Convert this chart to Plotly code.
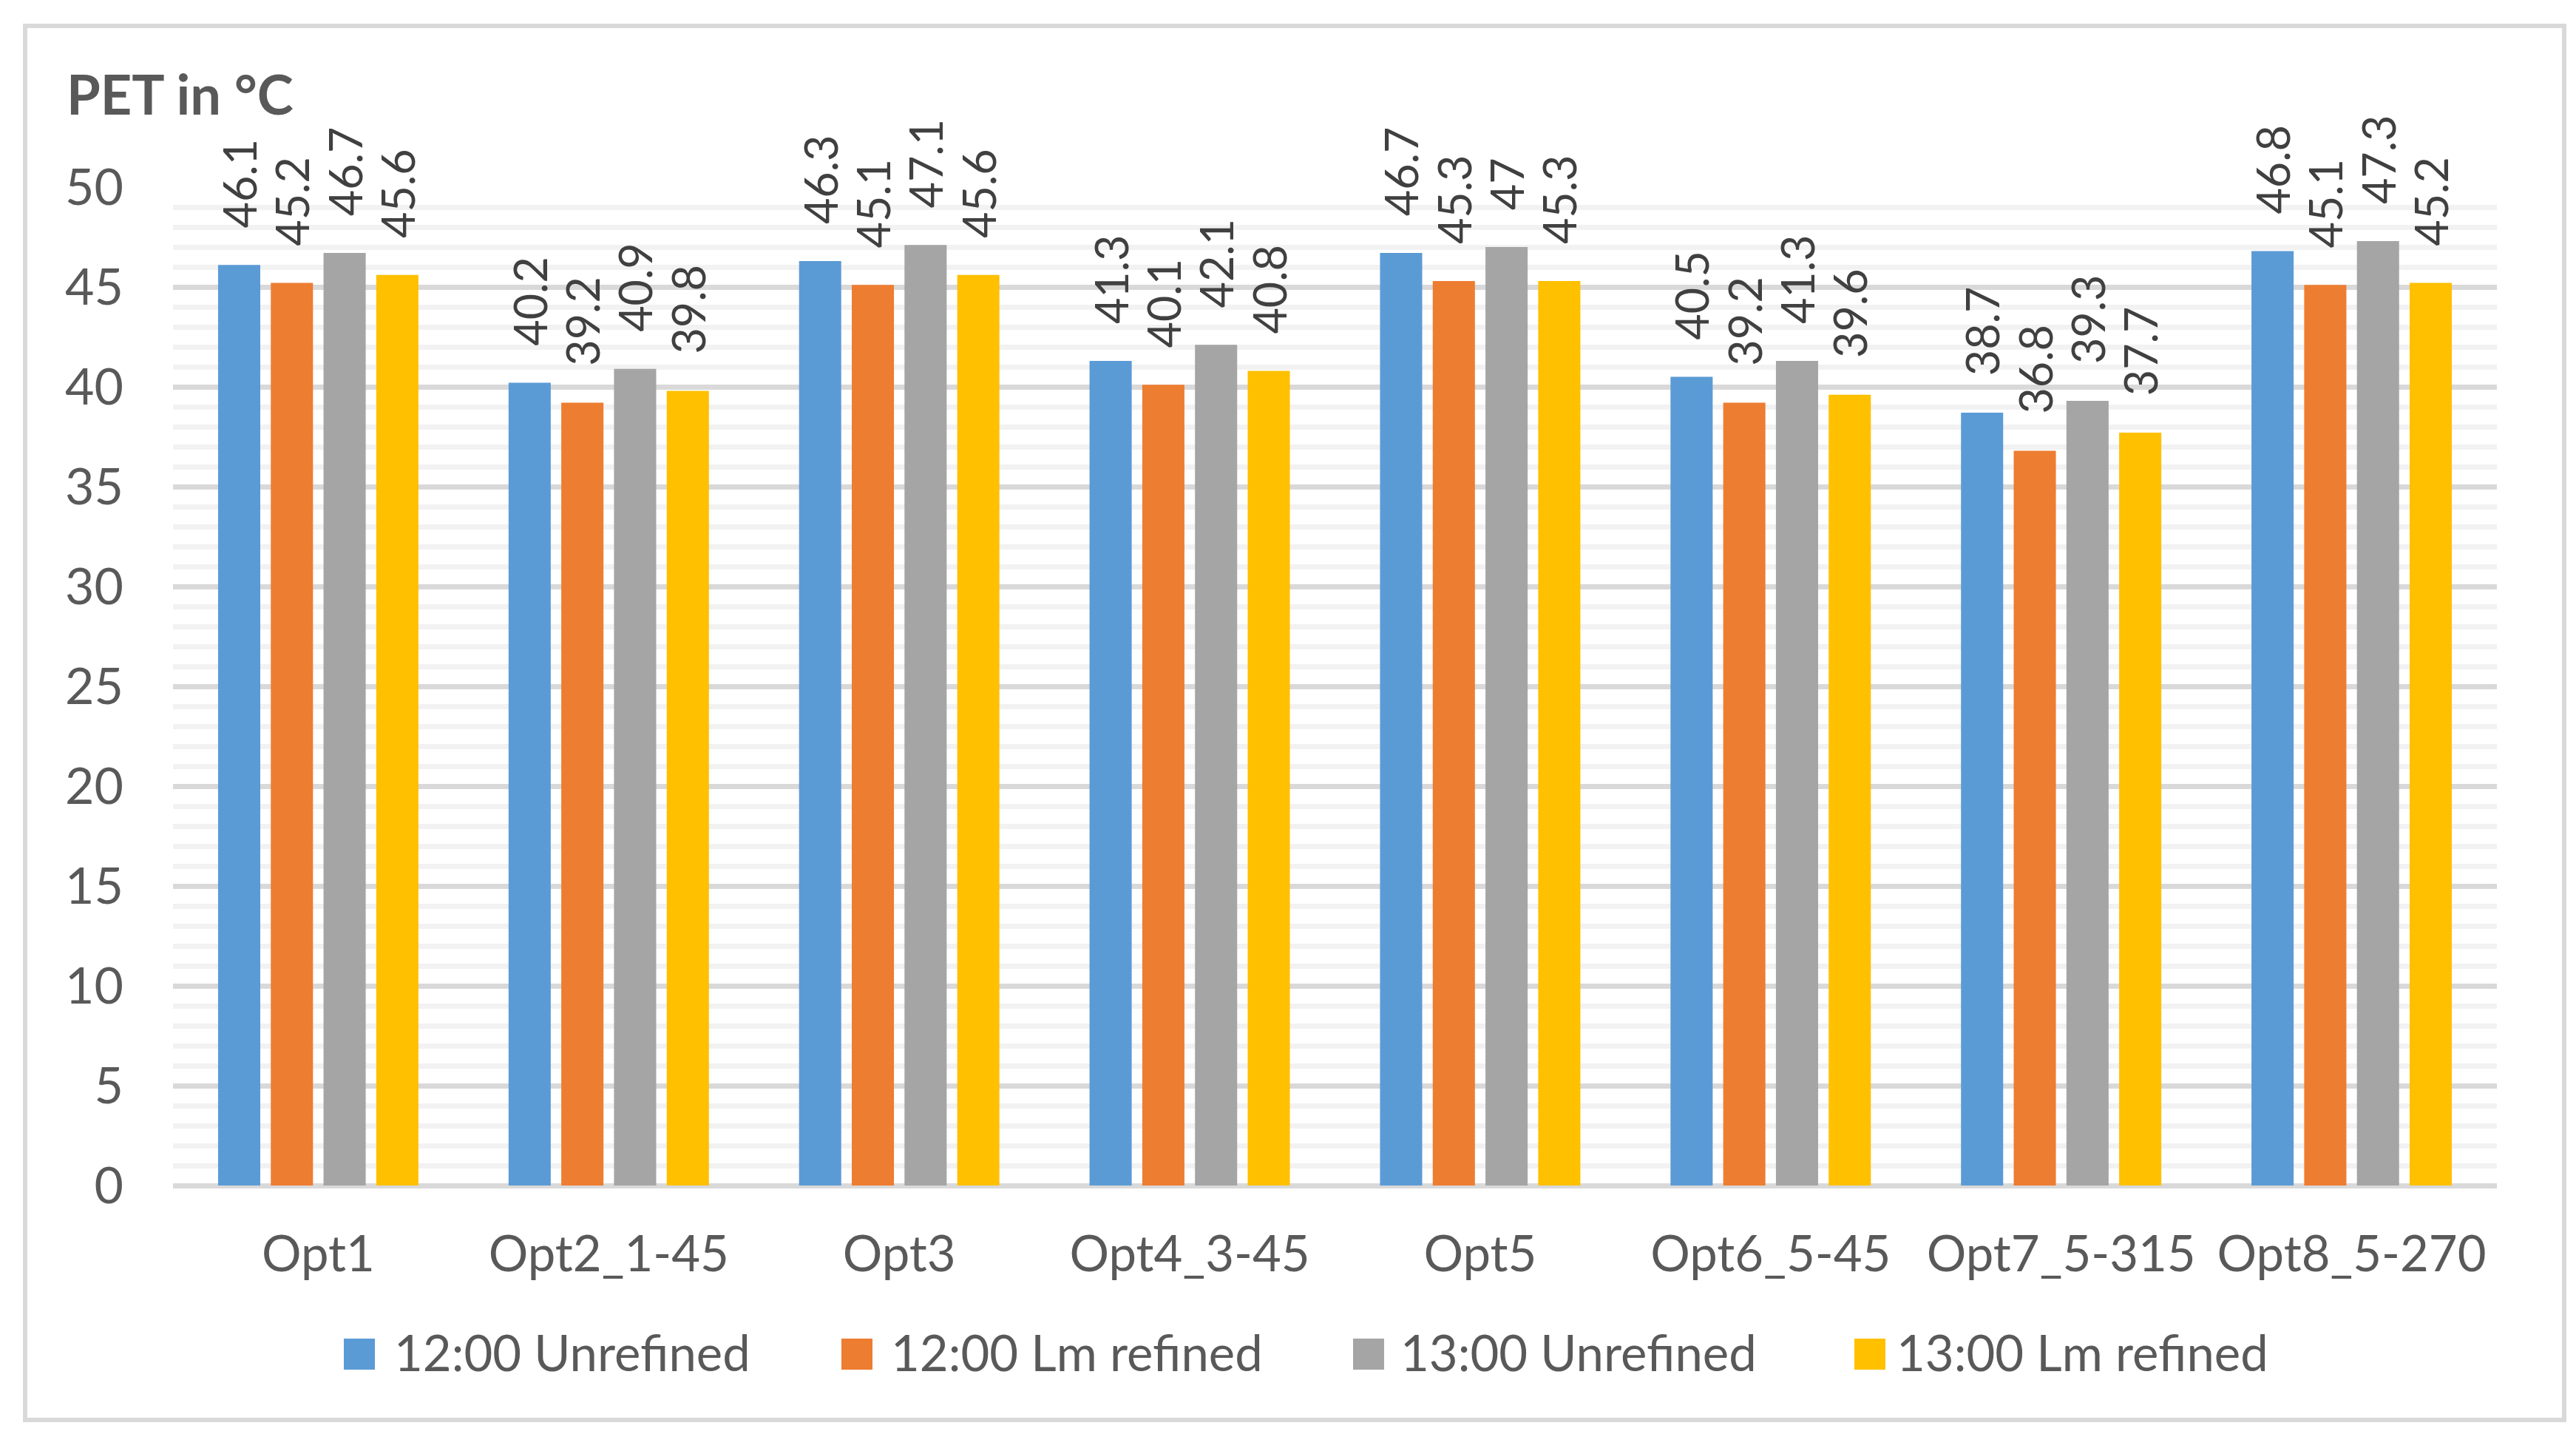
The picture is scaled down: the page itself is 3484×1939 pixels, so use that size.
import plotly.graph_objects as go

categories = ["Opt1", "Opt2_1-45", "Opt3", "Opt4_3-45", "Opt5", "Opt6_5-45", "Opt7_5-315", "Opt8_5-270"]
series_names = ["12:00 Unrefined", "12:00 Lm refined", "13:00 Unrefined", "13:00 Lm refined"]
unrefined_12 = [46.1, 40.2, 46.3, 41.3, 46.7, 40.5, 38.7, 46.8]
lm_refined_12 = [45.2, 39.2, 45.1, 40.1, 45.3, 39.2, 36.8, 45.1]
unrefined_13 = [46.7, 40.9, 47.1, 42.1, 47.0, 41.3, 39.3, 47.3]
lm_refined_13 = [45.6, 39.8, 45.6, 40.8, 45.3, 39.6, 37.7, 45.2]
y_ticks = [0, 5, 10, 15, 20, 25, 30, 35, 40, 45, 50]

series_values = [unrefined_12, lm_refined_12, unrefined_13, lm_refined_13]
colors = ["#5B9BD5", "#ED7D31", "#A5A5A5", "#FFC000"]

W, H = 3484, 1939
L, R, T, B = 226, 115, 245, 344
PW, PH = W - L - R, H - T - B
FONT = "Lato, 'Open Sans', Roboto, sans-serif"
TXT = "#595959"


def px_x(px):
    return (px - L) / PW


def px_y(py):
    return (H - B - py) / PH


fig = go.Figure()
for name, vals, col in zip(series_names, series_values, colors):
    fig.add_trace(go.Bar(
        x=categories, y=vals, name=name, marker=dict(color=col, line=dict(width=0)),
        texttemplate="\u00a0\u00a0\u00a0%{y}", textposition="outside", textangle=-90,
        constraintext="none", cliponaxis=False,
        textfont=dict(family=FONT, size=61, color="#404040"),
        showlegend=False,
    ))

shapes = [dict(type="rect", xref="paper", yref="paper",
               x0=px_x(26), x1=px_x(3460), y0=px_y(1912), y1=px_y(27),
               line=dict(color="#D9D9D9", width=6), layer="below")]
annotations = [dict(text="<b>PET in °C</b>", xref="paper", yref="paper",
                    x=px_x(80), y=px_y(118), xanchor="left", yanchor="middle",
                    showarrow=False, font=dict(family=FONT, size=74, color=TXT))]

legend_sq_x = [457, 1130, 1822, 2500]
legend_txt_x = [523, 1195, 1884, 2555]
for sx, tx, name, col in zip(legend_sq_x, legend_txt_x, series_names, colors):
    shapes.append(dict(type="rect", xref="paper", yref="paper",
                       x0=px_x(sx), x1=px_x(sx + 42), y0=px_y(1844), y1=px_y(1802),
                       fillcolor=col, line=dict(width=0)))
    annotations.append(dict(text=name, xref="paper", yref="paper",
                            x=px_x(tx), y=px_y(1820), xanchor="left", yanchor="middle",
                            showarrow=False, font=dict(family=FONT, size=67, color=TXT)))

fig.update_layout(
    width=W, height=H,
    margin=dict(l=L, r=R, t=T, b=B, pad=0),
    paper_bgcolor="white", plot_bgcolor="white",
    barmode="group", bargap=0.274, bargroupgap=0.2,
    font=dict(family=FONT, color=TXT),
    shapes=shapes, annotations=annotations,
    showlegend=False,
)
fig.update_xaxes(
    showgrid=False, showline=False, zeroline=False, ticks="",
    tickfont=dict(family=FONT, size=67, color=TXT), ticklabelstandoff=48,
)
fig.update_yaxes(
    range=[0, 50], tickvals=y_ticks, showline=False,
    showgrid=True, gridcolor="#D9D9D9", gridwidth=7,
    zeroline=True, zerolinecolor="#D9D9D9", zerolinewidth=7,
    minor=dict(dtick=1, showgrid=True, gridcolor="#F2F2F2", gridwidth=7),
    ticks="", tickfont=dict(family=FONT, size=68, color=TXT), ticklabelstandoff=66,
)

fig.write_html("out.html")
